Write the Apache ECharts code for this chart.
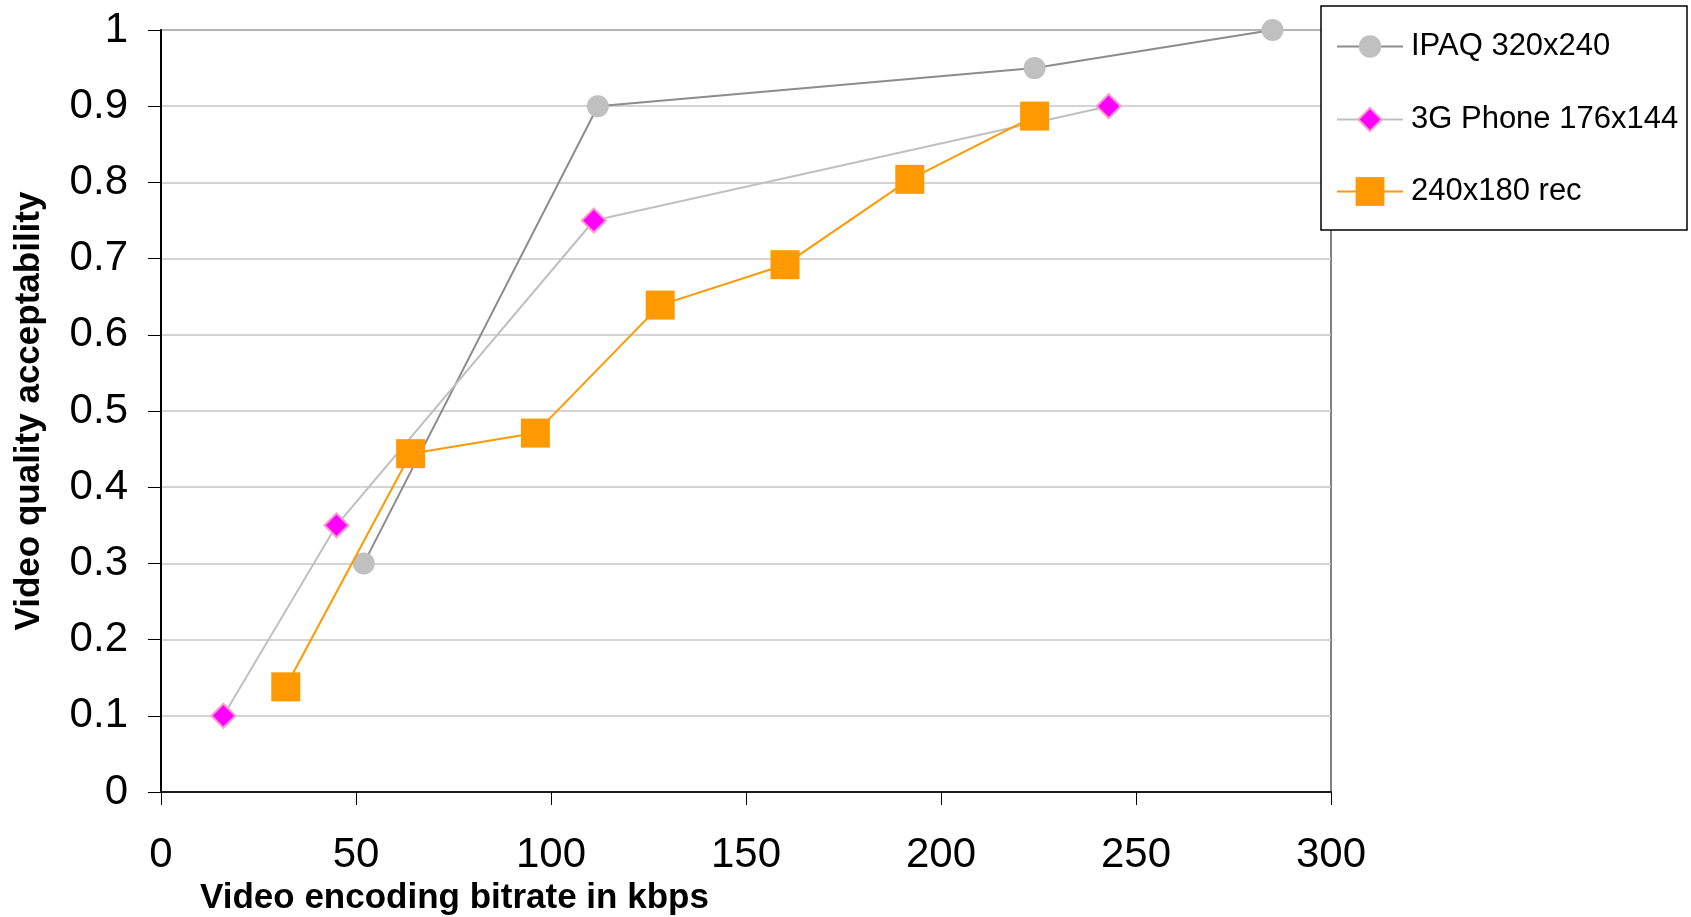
<!DOCTYPE html>
<html>
<head>
<meta charset="utf-8">
<script src="https://cdn.jsdelivr.net/npm/echarts@6/dist/echarts.min.js"></script>
<style>
  html, body { margin: 0; padding: 0; background: #ffffff; }
  #chart { width: 1691px; height: 917px; }
</style>
</head>
<body>
<div id="chart"></div>
<script>
// Acceptability of video quality versus encoding bitrate, per device
const seriesNames = ['IPAQ 320x240', '3G Phone 176x144', '240x180 rec'];

const ipaqRate  = [52, 112, 224, 285];
const ipaqScore = [0.3, 0.9, 0.95, 1.0];

const phoneRate  = [16, 45, 111, 243];
const phoneScore = [0.1, 0.35, 0.75, 0.9];

const recRate  = [32, 64, 96, 128, 160, 192, 224];
const recScore = [0.138, 0.444, 0.471, 0.639, 0.692, 0.804, 0.887];

const xTicks = [0, 50, 100, 150, 200, 250, 300];
const xAxisTitle = 'Video encoding bitrate in kbps';
const yAxisTitle = 'Video quality acceptability';

const pairs = (xs, ys) => xs.map((x, i) => [x, ys[i]]);

const FONT = '"Liberation Sans", Arial, sans-serif';

const chart = echarts.init(document.getElementById('chart'), null, { renderer: 'canvas' });

const legendBase = {
  orient: 'vertical',
  left: 1336,
  padding: 0,
  itemWidth: 66,
  selectedMode: false,
  z: 11,
  textStyle: { fontFamily: FONT, fontSize: 31, color: '#000', padding: [0, 0, 0, 3] }
};

chart.setOption({
  animation: false,
  backgroundColor: '#ffffff',
  grid: {
    left: 161, right: 360, top: 30, bottom: 125,
    show: true, borderColor: '#808080', borderWidth: 2
  },
  title: {
    text: xAxisTitle,
    left: 200,
    top: 881,
    padding: 0,
    textStyle: { fontFamily: FONT, fontSize: 35, fontWeight: 'bold', color: '#000' }
  },
  graphic: [{
    type: 'rect',
    z: 10,
    shape: { x: 1321, y: 6, width: 366, height: 224 },
    style: { fill: '#ffffff', stroke: '#000000', lineWidth: 1.5 }
  }],
  legend: [
    Object.assign({}, legendBase, { top: 31, itemHeight: 28, data: [seriesNames[0]] }),
    Object.assign({}, legendBase, { top: 104, itemHeight: 29, data: [seriesNames[1]] }),
    Object.assign({}, legendBase, { top: 176, itemHeight: 36, data: [seriesNames[2]] })
  ],
  xAxis: {
    type: 'value',
    min: xTicks[0],
    max: xTicks[xTicks.length - 1],
    interval: xTicks[1] - xTicks[0],
    axisLine: { show: true, onZero: false, lineStyle: { color: '#1a1a1a', width: 2 } },
    axisTick: { show: true, inside: false, length: 13, lineStyle: { color: '#000', width: 1 } },
    axisLabel: { fontFamily: FONT, fontSize: 42, color: '#000', margin: 42 },
    splitLine: { show: false }
  },
  yAxis: {
    type: 'value',
    min: 0,
    max: 1,
    interval: 0.1,
    name: yAxisTitle,
    nameLocation: 'middle',
    nameRotate: 90,
    nameGap: 114,
    nameTextStyle: { fontFamily: FONT, fontSize: 35, fontWeight: 'bold', color: '#000' },
    axisLine: { show: true, lineStyle: { color: '#000', width: 2 } },
    axisTick: { show: true, inside: false, length: 13, lineStyle: { color: '#000', width: 1 } },
    axisLabel: { fontFamily: FONT, fontSize: 42, color: '#000', margin: 33 },
    splitLine: { show: true, lineStyle: { color: '#c6c6c6', width: 1.5 } }
  },
  series: [
    {
      name: seriesNames[0],
      type: 'line',
      clip: false,
      data: pairs(ipaqRate, ipaqScore),
      symbol: 'circle',
      symbolSize: 22,
      itemStyle: { color: '#c0c0c0' },
      lineStyle: { color: '#8c8c8c', width: 2 },
      z: 2
    },
    {
      name: seriesNames[1],
      type: 'line',
      clip: false,
      data: pairs(phoneRate, phoneScore),
      symbol: 'diamond',
      symbolSize: 24,
      itemStyle: { color: '#ff00ff', borderColor: '#ff99cc', borderWidth: 2 },
      lineStyle: { color: '#c0c0c0', width: 2 },
      z: 3
    },
    {
      name: seriesNames[2],
      type: 'line',
      clip: false,
      data: pairs(recRate, recScore),
      symbol: 'rect',
      symbolSize: 29,
      itemStyle: { color: '#ff9900' },
      lineStyle: { color: '#ff9900', width: 2 },
      z: 4
    }
  ]
});
</script>
</body>
</html>
